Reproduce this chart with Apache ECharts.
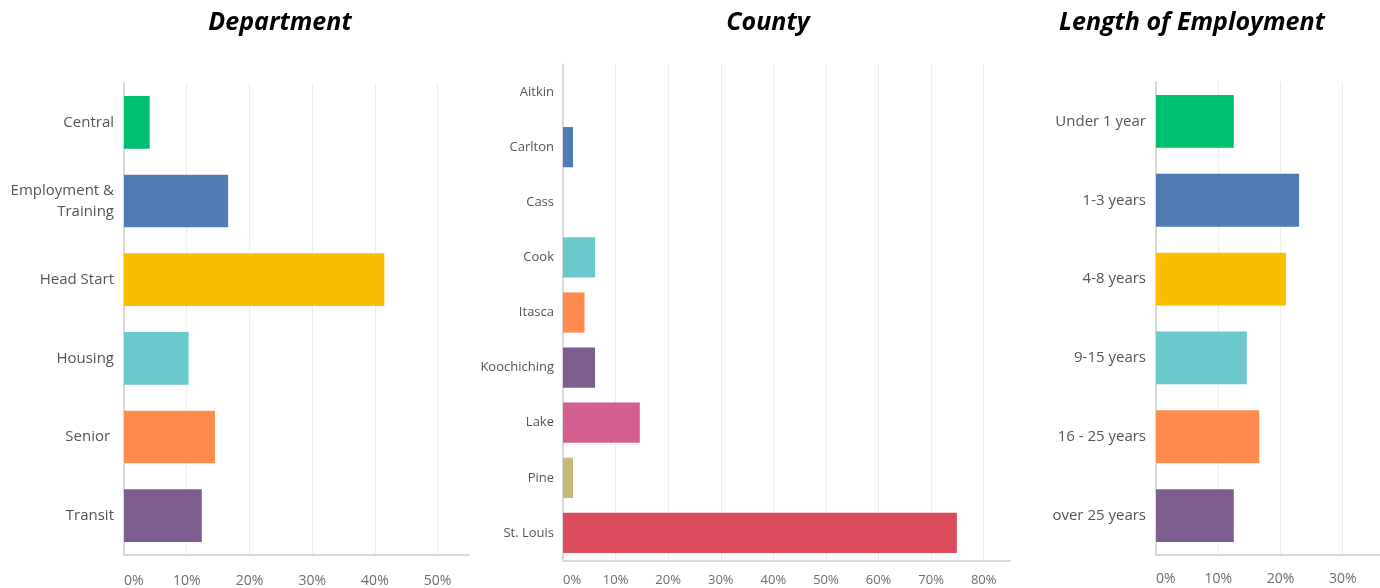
<!DOCTYPE html>
<html>
<head>
<meta charset="utf-8">
<title>Survey respondents</title>
<script src="https://cdn.jsdelivr.net/npm/echarts@6/dist/echarts.min.js"></script>
<style>
  html, body { margin: 0; padding: 0; background: #ffffff; }
  #chart { width: 1380px; height: 588px; }
</style>
</head>
<body>
<div id="chart"></div>
<script>
// Share of respondents (%) in each group
const deptCategories = ['Central', 'Employment &\nTraining', 'Head Start', 'Housing', 'Senior ', 'Transit'];
const deptValues = [4.1, 16.6, 41.5, 10.3, 14.5, 12.4];

const countyCategories = ['Aitkin', 'Carlton', 'Cass', 'Cook', 'Itasca', 'Koochiching', 'Lake', 'Pine', 'St. Louis'];
const countyValues = [0, 1.9, 0, 6.1, 4.1, 6.1, 14.6, 1.9, 74.9];

const tenureCategories = ['Under 1 year', '1-3 years', '4-8 years', '9-15 years', '16 - 25 years', 'over 25 years'];
const tenureValues = [12.5, 23.0, 20.9, 14.6, 16.6, 12.5];

const panelTitles = ['Department', 'County', 'Length of Employment'];

// Bar colours, one per row position
const palette = ['#00bf6f', '#507cb6', '#f9be00', '#6bc8cd', '#ff8b4f', '#7d5c8f', '#d25f90', '#c8b97a', '#db4d5c'];

const FONT = '"Open Sans", "DejaVu Sans", sans-serif';
const chart = echarts.init(document.getElementById('chart'), null, { renderer: 'canvas' });

const panels = [
  { cats: deptCategories, vals: deptValues, max: 55, grid: { left: 124, top: 83, width: 345, height: 472 },
    catFont: 15, tickFont: 14, catMargin: 10, tickMargin: 19, gap: '33%', titleX: 275 },
  { cats: countyCategories, vals: countyValues, max: 85, grid: { left: 563, top: 64.5, width: 447, height: 496 },
    catFont: 13, tickFont: 13, catMargin: 9, tickMargin: 13, gap: '27%', titleX: 763 },
  { cats: tenureCategories, vals: tenureValues, max: 36, grid: { left: 1156, top: 82, width: 224, height: 473 },
    catFont: 15, tickFont: 14, catMargin: 10, tickMargin: 17, gap: '33%', titleX: 1187 }
];

const option = {
  animation: false,
  backgroundColor: '#ffffff',
  title: panels.map((p, i) => ({
    text: panelTitles[i],
    left: p.titleX,
    top: 5,
    textAlign: 'center',
    textStyle: { fontFamily: FONT, fontSize: 25, fontWeight: 'bold', fontStyle: 'italic', color: '#000000' }
  })),
  grid: panels.map(p => Object.assign({ containLabel: false, outerBoundsMode: 'none' }, p.grid)),
  xAxis: panels.map((p, i) => ({
    type: 'value',
    gridIndex: i,
    min: 0,
    max: p.max,
    interval: 10,
    axisLine: { show: true, lineStyle: { color: '#d9d9d9', width: 2 } },
    axisTick: { show: false },
    splitLine: { show: true, showMaxLine: false, lineStyle: { color: '#ececec', width: 1 } },
    axisLabel: {
      formatter: '{value}%',
      showMaxLabel: false,
      alignMinLabel: 'left',
      margin: p.tickMargin,
      color: '#6e6e6e',
      fontFamily: FONT,
      fontSize: p.tickFont
    }
  })),
  yAxis: panels.map((p, i) => ({
    type: 'category',
    gridIndex: i,
    data: p.cats,
    inverse: true,
    axisLine: { show: true, lineStyle: { color: '#d9d9d9', width: 2 } },
    axisTick: { show: false },
    splitLine: { show: false },
    axisLabel: {
      margin: p.catMargin,
      color: '#555555',
      fontFamily: FONT,
      fontSize: p.catFont,
      lineHeight: 21,
      interval: 0
    }
  })),
  series: panels.map((p, i) => ({
    type: 'bar',
    xAxisIndex: i,
    yAxisIndex: i,
    barCategoryGap: p.gap,
    data: p.vals.map((v, k) => ({ value: v, itemStyle: { color: palette[k] } }))
  }))
};

chart.setOption(option);
</script>
</body>
</html>
